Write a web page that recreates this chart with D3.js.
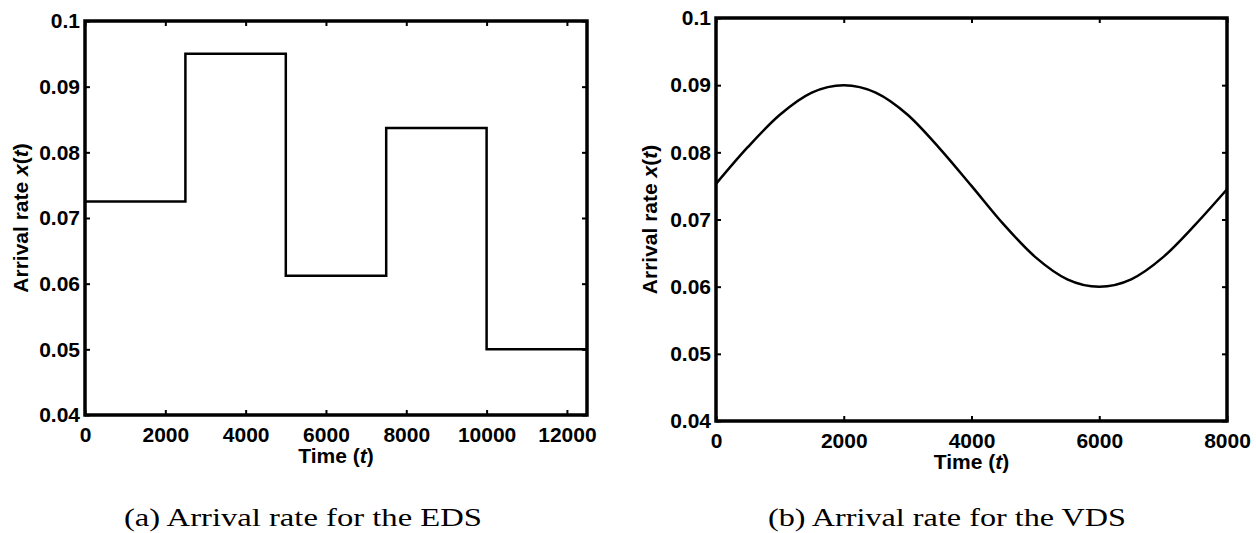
<!DOCTYPE html>
<html>
<head>
<meta charset="utf-8">
<script src="https://d3js.org/d3.v7.min.js"></script>
<style>
    html, body { margin: 0; padding: 0; background: #fff; }
    svg { display: block; }
    .tick text { font-family: "Liberation Sans", Arial, sans-serif; font-weight: bold; font-size: 21px; fill: #000; }
    .tick line { stroke: #000; stroke-width: 2px; }
    .domain { display: none; }
    .axis-label { font-family: "Liberation Sans", Arial, sans-serif; font-weight: bold; font-size: 21px; fill: #000; }
    .caption { font-family: "Liberation Serif", "DejaVu Serif", serif; font-size: 25px; fill: #000; }
</style>
</head>
<body>
<div id="chart"></div>
<script>
    // (a) EDS: piecewise constant arrival rate
    var edsTimes = [0, 2500, 5000, 7500, 10000, 12500];
    var edsRates = [0.0725, 0.095, 0.0612, 0.0837, 0.05, 0.05];
    var edsXTicks = [0, 2000, 4000, 6000, 8000, 10000, 12000];

    // (b) VDS: smooth arrival rate
    var vdsTimes = [0, 500, 1000, 1500, 2000, 2500, 3000, 3500, 4000, 4500, 5000, 5500, 6000, 6500, 7000, 7500, 8000];
    var vdsRates = [0.0753, 0.0808, 0.0856, 0.0889, 0.0900, 0.0889, 0.0856, 0.0806, 0.0750, 0.0693, 0.0644, 0.0611, 0.0600, 0.0611, 0.0644, 0.0692, 0.0745];
    var vdsXTicks = [0, 2000, 4000, 6000, 8000];

    var yTicks = [0.04, 0.05, 0.06, 0.07, 0.08, 0.09, 0.1];

    var svg = d3.select("#chart").append("svg")
        .attr("width", 1256)
        .attr("height", 533);

    function panel(opt) {
        var x = d3.scaleLinear().domain(opt.xDomain).range([opt.left, opt.right]);
        var y = d3.scaleLinear().domain([0.04, 0.1]).range([opt.bottom, opt.top]);
        var g = svg.append("g");
        var fmt = d => String(+d.toFixed(2));

        g.append("g").attr("transform", "translate(0," + opt.bottom + ")")
            .call(d3.axisBottom(x).tickValues(opt.xTicks).tickSize(-5).tickPadding(12).tickFormat(d3.format("d")));
        g.append("g").attr("transform", "translate(0," + opt.top + ")")
            .call(d3.axisTop(x).tickValues(opt.xTicks).tickSize(-5).tickFormat(""));
        g.append("g").attr("transform", "translate(" + opt.left + ",0)")
            .call(d3.axisLeft(y).tickValues(yTicks).tickSize(-5).tickPadding(5).tickFormat(fmt));
        g.append("g").attr("transform", "translate(" + opt.right + ",0)")
            .call(d3.axisRight(y).tickValues(yTicks).tickSize(-5).tickFormat(""));

        var pts = opt.times.map((t, i) => [t, opt.rates[i]]);
        g.append("path")
            .datum(pts)
            .attr("fill", "none")
            .attr("stroke", "#000")
            .attr("stroke-width", 2.5)
            .attr("d", d3.line().x(d => x(d[0])).y(d => y(d[1])).curve(opt.curve));

        g.append("rect")
            .attr("x", opt.left).attr("y", opt.top)
            .attr("width", opt.right - opt.left).attr("height", opt.bottom - opt.top)
            .attr("fill", "none").attr("stroke", "#000").attr("stroke-width", 3.5);

        var cx = (opt.left + opt.right) / 2;
        var xl = g.append("text").attr("class", "axis-label")
            .attr("x", cx).attr("y", opt.bottom + opt.xLabelDy).attr("text-anchor", "middle");
        xl.append("tspan").text("Time (");
        xl.append("tspan").attr("font-style", "italic").text("t");
        xl.append("tspan").text(")");

        var cy = (opt.top + opt.bottom) / 2;
        var yl = g.append("text").attr("class", "axis-label")
            .attr("transform", "translate(" + opt.yLabelX + "," + cy + ") rotate(-90)")
            .attr("text-anchor", "middle");
        yl.append("tspan").text("Arrival rate ");
        yl.append("tspan").attr("font-style", "italic").text("x");
        yl.append("tspan").text("(");
        yl.append("tspan").attr("font-style", "italic").text("t");
        yl.append("tspan").text(")");

        svg.append("text").attr("class", "caption")
            .attr("x", opt.captionX - 179).attr("y", 526)
            .attr("textLength", 358).attr("lengthAdjust", "spacingAndGlyphs")
            .text(opt.caption);
    }

    panel({
        left: 85, right: 587, top: 21, bottom: 415,
        xDomain: [0, 12500], xTicks: edsXTicks,
        times: edsTimes, rates: edsRates, curve: d3.curveStepAfter,
        xLabelDy: 48, yLabelX: 28, captionX: 303,
        caption: "(a) Arrival rate for the EDS"
    });

    panel({
        left: 716, right: 1227, top: 18, bottom: 421,
        xDomain: [0, 8000], xTicks: vdsXTicks,
        times: vdsTimes, rates: vdsRates, curve: d3.curveCardinal,
        xLabelDy: 48, yLabelX: 657, captionX: 947,
        caption: "(b) Arrival rate for the VDS"
    });
</script>
</body>
</html>
